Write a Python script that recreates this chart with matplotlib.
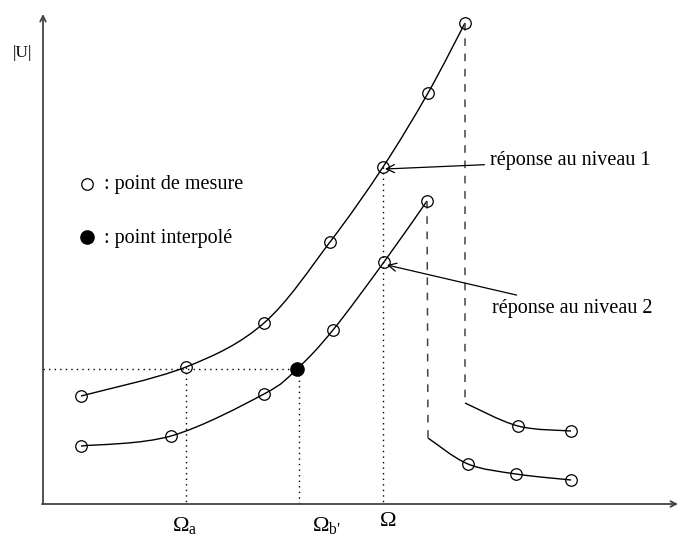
import numpy as np
import matplotlib
matplotlib.use('Agg')
import matplotlib.pyplot as plt
from matplotlib.path import Path
from matplotlib.patches import PathPatch

plt.rcParams['font.family'] = ['Liberation Serif', 'DejaVu Serif']
plt.rcParams['mathtext.fontset'] = 'custom'
plt.rcParams['mathtext.rm'] = 'Liberation Serif'
plt.rcParams['mathtext.it'] = 'Liberation Serif'

# points de mesure (coordonnées du schéma, y vers le bas)
n1_x = [81, 186, 264, 330, 383, 428, 465]
n1_y = [396, 367, 323, 242, 167, 93, 23]
n1_bas_x = [465, 518, 571]
n1_bas_y = [403, 426, 431]

n2_x = [81, 171, 264, 297, 333, 384, 427]
n2_y = [446, 436, 394, 369, 330, 262, 201]
n2_bas_x = [428, 468, 516, 571]
n2_bas_y = [438, 464, 474, 480]

interp_x, interp_y = 297, 369

omega_a, omega_b, omega = 186, 299, 383


def courbe(ax, xs, ys):
    pts = np.column_stack([xs, ys]).astype(float)
    verts = [pts[0]]
    codes = [Path.MOVETO]
    n = len(pts)
    for i in range(n - 1):
        p0 = pts[i - 1] if i > 0 else pts[i]
        p1 = pts[i]
        p2 = pts[i + 1]
        p3 = pts[i + 2] if i + 2 < n else pts[i + 1]
        c1 = p1 + (p2 - p0) / 6
        c2 = p2 - (p3 - p1) / 6
        verts += [c1, c2, p2]
        codes += [Path.CURVE4] * 3
    ax.add_patch(PathPatch(Path(verts, codes), fill=False, lw=1.0, color='black'))


fig = plt.figure(figsize=(6.78, 5.45), dpi=100)
ax = fig.add_axes([0, 0, 1, 1])
ax.set_xlim(0, 678)
ax.set_ylim(545, 0)
ax.axis('off')

# axes
ax.annotate('', xy=(43, 14), xytext=(43, 504),
            arrowprops=dict(arrowstyle='->', lw=1.3, color='#444444', shrinkA=0, shrinkB=0))
ax.annotate('', xy=(678, 504), xytext=(42, 504),
            arrowprops=dict(arrowstyle='->', lw=1.3, color='#444444', shrinkA=0, shrinkB=0))

# pointillés
ax.plot([43, interp_x], [interp_y, interp_y], ls=(0, (1, 3)), color='black', lw=1)
ax.plot([omega_a, omega_a], [367, 504], ls=(0, (1, 3)), color='black', lw=1)
ax.plot([omega_b, omega_b], [369, 504], ls=(0, (1, 3)), color='black', lw=1)
ax.plot([omega, omega], [167, 504], ls=(0, (1, 3)), color='black', lw=1)

# sauts en tirets
ax.plot([n1_x[-1], n1_bas_x[0]], [n1_y[-1], n1_bas_y[0]], ls=(0, (5, 5)), color='#444444', lw=1.1)
ax.plot([n2_x[-1], n2_bas_x[0]], [n2_y[-1], n2_bas_y[0]], ls=(0, (5, 5)), color='#444444', lw=1.1)

# courbes
courbe(ax, n1_x, n1_y)
courbe(ax, n1_bas_x, n1_bas_y)
courbe(ax, n2_x, n2_y)
courbe(ax, n2_bas_x, n2_bas_y)

mk = dict(marker='o', ms=8.3, mfc='none', mec='black', mew=0.9, ls='none')
ax.plot(n1_x, n1_y, **mk)
ax.plot(n1_bas_x[1:], n1_bas_y[1:], **mk)
ax.plot([x for x in n2_x if x != interp_x], [y for x, y in zip(n2_x, n2_y) if x != interp_x], **mk)
ax.plot(n2_bas_x[1:], n2_bas_y[1:], **mk)
ax.plot([interp_x], [interp_y], marker='o', ms=9.5, color='black', ls='none')

# légende
ax.plot([87], [184], **mk)
ax.text(104, 184, ': point de mesure', fontsize=14.5, va='center')
ax.plot([87], [237], marker='o', ms=9.5, color='black', ls='none')
ax.text(104, 238, ': point interpolé', fontsize=14.5, va='center')

# flèches d'annotation
ax.annotate('réponse au niveau 1', xy=(385, 169), xytext=(490, 161), fontsize=14.5, va='center',
            arrowprops=dict(arrowstyle='->', lw=0.9, color='black', shrinkA=2, shrinkB=0))
ax.annotate('réponse au niveau 2', xy=(387, 265), xytext=(492, 308), fontsize=14.5, va='center',
            arrowprops=dict(arrowstyle='->', lw=0.9, color='black', shrinkA=2, shrinkB=0))

ax.text(22, 53, '|U|', fontsize=12.5, ha='center', va='center')
ax.text(172, 526, r'$\Omega_{\mathrm{a}}$', fontsize=16, va='center')
ax.text(312, 526, '$\\Omega_{\\mathrm{b\u2032}}$', fontsize=16, va='center')
ax.text(379, 522, r'$\Omega$', fontsize=16, va='center')

fig.savefig('out.png', dpi=100)
